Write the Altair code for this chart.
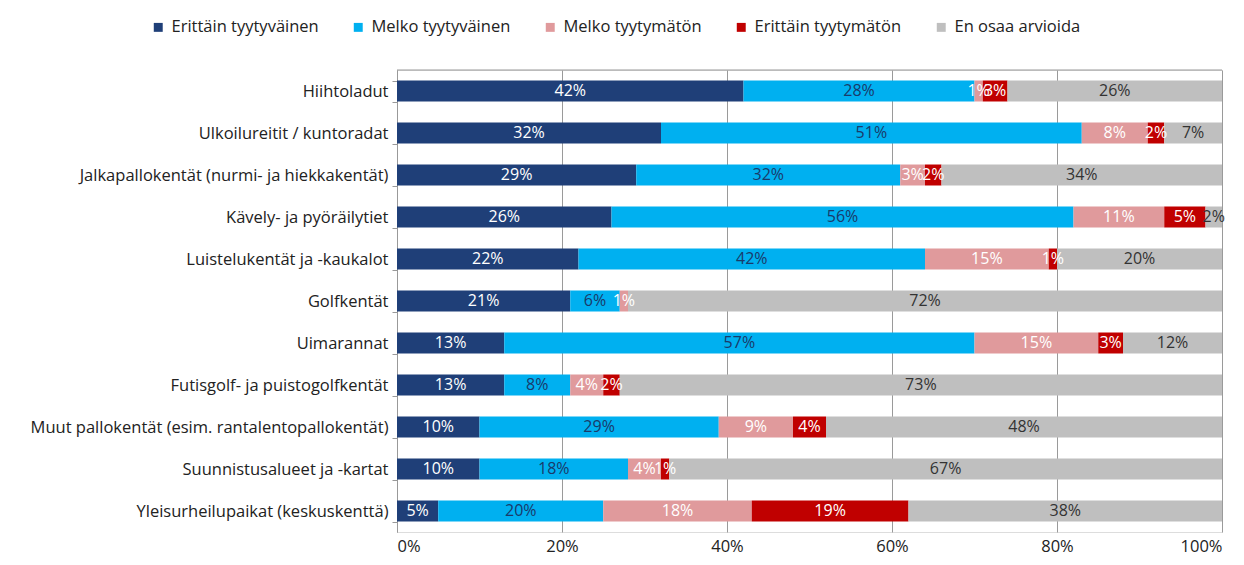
import altair as alt
import pandas as pd

categories = [
    "Hiihtoladut",
    "Ulkoilureitit / kuntoradat",
    "Jalkapallokentät (nurmi- ja hiekkakentät)",
    "Kävely- ja pyöräilytiet",
    "Luistelukentät ja -kaukalot",
    "Golfkentät",
    "Uimarannat",
    "Futisgolf- ja puistogolfkentät",
    "Muut pallokentät (esim. rantalentopallokentät)",
    "Suunnistusalueet ja -kartat",
    "Yleisurheilupaikat (keskuskenttä)",
]
series = ["Erittäin tyytyväinen", "Melko tyytyväinen", "Melko tyytymätön",
          "Erittäin tyytymätön", "En osaa arvioida"]

erittain_tyytyvainen = [42, 32, 29, 26, 22, 21, 13, 13, 10, 10, 5]
melko_tyytyvainen = [28, 51, 32, 56, 42, 6, 57, 8, 29, 18, 20]
melko_tyytymaton = [1, 8, 3, 11, 15, 1, 15, 4, 9, 4, 18]
erittain_tyytymaton = [3, 2, 2, 5, 1, 0, 3, 2, 4, 1, 19]
en_osaa = [26, 7, 34, 2, 20, 72, 12, 73, 48, 67, 38]

bar_colors = ["#1f3f78", "#00b0f0", "#e09a9c", "#c00000", "#bfbfbf"]
text_colors = ["#ffffff", "#1a3a6a", "#ffffff", "#ffffff", "#333333"]

rows = []
for s_i, (s, vals) in enumerate(zip(series, [erittain_tyytyvainen, melko_tyytyvainen,
                                              melko_tyytymaton, erittain_tyytymaton, en_osaa])):
    for c, v in zip(categories, vals):
        rows.append({"cat": c, "series": s, "order": s_i, "value": v})
df = pd.DataFrame(rows)

FONT = "Open Sans"
W, H = 825, 462

base = alt.Chart(df).transform_stack(
    stack="value", groupby=["cat"], as_=["x0", "x1"],
    sort=[alt.SortField("order", order="ascending")],
).transform_calculate(mid="(datum.x0 + datum.x1) / 2")

y_enc = alt.Y("cat:N", sort=categories, title=None,
              scale=alt.Scale(paddingInner=0.5, paddingOuter=0.25),
              axis=alt.Axis(labelFont=FONT, labelFontSize=16.5, labelColor="#222",
                            labelPadding=4, tickBand="extent", tickSize=5,
                            tickColor="#999", domainColor="#999", labelLimit=600))

bars = base.mark_bar().encode(
    x=alt.X("x0:Q", scale=alt.Scale(domain=[0, 100]), title=None,
            axis=alt.Axis(values=[0, 20, 40, 60, 80, 100], labelExpr="datum.value + '%'",
                          grid=True, gridColor="#9a9a9a", domain=False, ticks=False,
                          labelFont=FONT, labelFontSize=16.5, labelColor="#222",
                          labelPadding=6)),
    x2="x1:Q",
    y=y_enc,
    color=alt.Color("series:N", sort=series,
                    scale=alt.Scale(domain=series, range=bar_colors),
                    legend=alt.Legend(title=None, orient="none", direction="horizontal",
                                      legendX=-247, legendY=-51, symbolType="square",
                                      symbolSize=80, symbolStrokeWidth=0,
                                      labelFont=FONT, labelFontSize=16.5,
                                      labelColor="#222", columnPadding=31,
                                      symbolOffset=0, labelOffset=5)),
    order=alt.Order("order:Q"),
)

texts = base.transform_filter("datum.value > 0").transform_calculate(
    lbl="datum.value + '%'"
).mark_text(font=FONT, fontSize=16).encode(
    x=alt.X("mid:Q"),
    y=alt.Y("cat:N", sort=categories),
    text="lbl:N",
    color=alt.Color("series:N", scale=alt.Scale(domain=series, range=text_colors),
                    legend=None),
)

top = alt.Chart(pd.DataFrame({"a": [0]})).mark_rule(color="#999").encode(
    x=alt.value(0), x2=alt.value(W), y=alt.value(0)
)

chart = alt.layer(bars, texts, top).resolve_scale(color="independent").properties(
    width=W, height=H,
    padding={"left": 22, "top": 11, "right": 5, "bottom": 5},
).configure_view(fill="#f2f2f2", stroke=None).configure(background="white")

chart.save("out.html", embed_options={"renderer": "svg", "actions": False})
